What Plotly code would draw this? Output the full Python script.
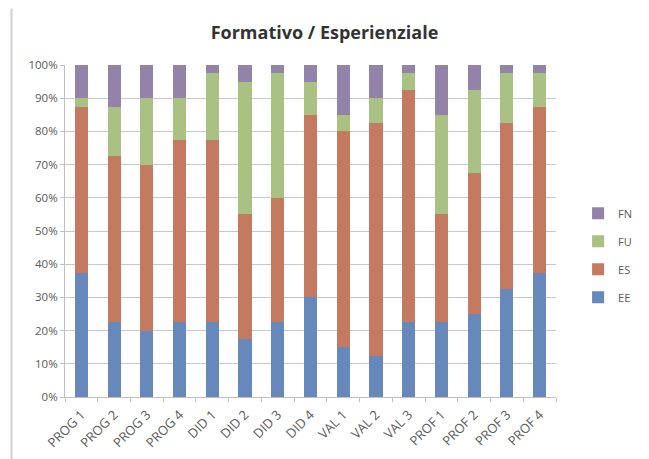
import plotly.graph_objects as go

categories = ["PROG 1", "PROG 2", "PROG 3", "PROG 4", "DID 1", "DID 2", "DID 3", "DID 4",
              "VAL 1", "VAL 2", "VAL 3", "PROF 1", "PROF 2", "PROF 3", "PROF 4"]
EE = [37.5, 22.5, 20, 22.5, 22.5, 17.5, 22.5, 30, 15, 12.5, 22.5, 22.5, 25, 32.5, 37.5]
ES = [50, 50, 50, 55, 55, 37.5, 37.5, 55, 65, 70, 70, 32.5, 42.5, 50, 50]
FU = [2.5, 15, 20, 12.5, 20, 40, 37.5, 10, 5, 7.5, 5, 30, 25, 15, 10]
FN = [10, 12.5, 10, 10, 2.5, 5, 2.5, 5, 15, 10, 2.5, 15, 7.5, 2.5, 2.5]
y_ticks = [0, 10, 20, 30, 40, 50, 60, 70, 80, 90, 100]
y_labels = [f"{v}%" for v in y_ticks]

series = [("EE", EE, "#6688bb", 4), ("ES", ES, "#c47a60", 3),
          ("FU", FU, "#a9c182", 2), ("FN", FN, "#9383a9", 1)]

fig = go.Figure()
for name, vals, col, rank in series:
    fig.add_trace(go.Bar(x=categories, y=vals, name=name, marker_color=col,
                         marker_line_width=0, legendgroup=name, legendrank=rank))

fig.update_layout(
    barmode="stack",
    bargap=0.6,
    width=649, height=459,
    margin=dict(l=65, r=62, t=65, b=62),
    paper_bgcolor="white", plot_bgcolor="white",
    font=dict(family="Open Sans, DejaVu Sans, sans-serif", size=11, color="#595959"),
    title=dict(text="<b>Formativo / Esperienziale</b>", x=0.5, xanchor="center", y=0.928, yanchor="middle",
               font=dict(size=18, color="#333333", family="Open Sans, sans-serif")),
    legend=dict(traceorder="grouped", x=1.045, xanchor="left", y=0.427, yanchor="middle",
                font=dict(size=11, color="#595959"), tracegroupgap=9, itemwidth=30),
    xaxis=dict(showline=True, linecolor="#bfbfbf", ticks="outside", tickcolor="#bfbfbf",
               ticklen=4, tickson="boundaries", tickangle=-45, showgrid=False,
               ticklabelstandoff=4, automargin=False,
               tickfont=dict(size=13, color="#595959")),
    yaxis=dict(range=[0, 100], tickvals=y_ticks, ticktext=y_labels, showgrid=True,
               gridcolor="#c8c8c8", gridwidth=1, showline=True, linecolor="#bfbfbf",
               ticks="outside", tickcolor="#bfbfbf", ticklen=4, zeroline=False,
               automargin=False,
               tickfont=dict(size=11.5, color="#595959")),
)
fig.add_shape(type="line", xref="paper", yref="paper", x0=-0.109, x1=-0.109, y0=-0.2, y1=1.17,
              line=dict(color="#cfcfcf", width=2))
fig.write_html("out.html")
